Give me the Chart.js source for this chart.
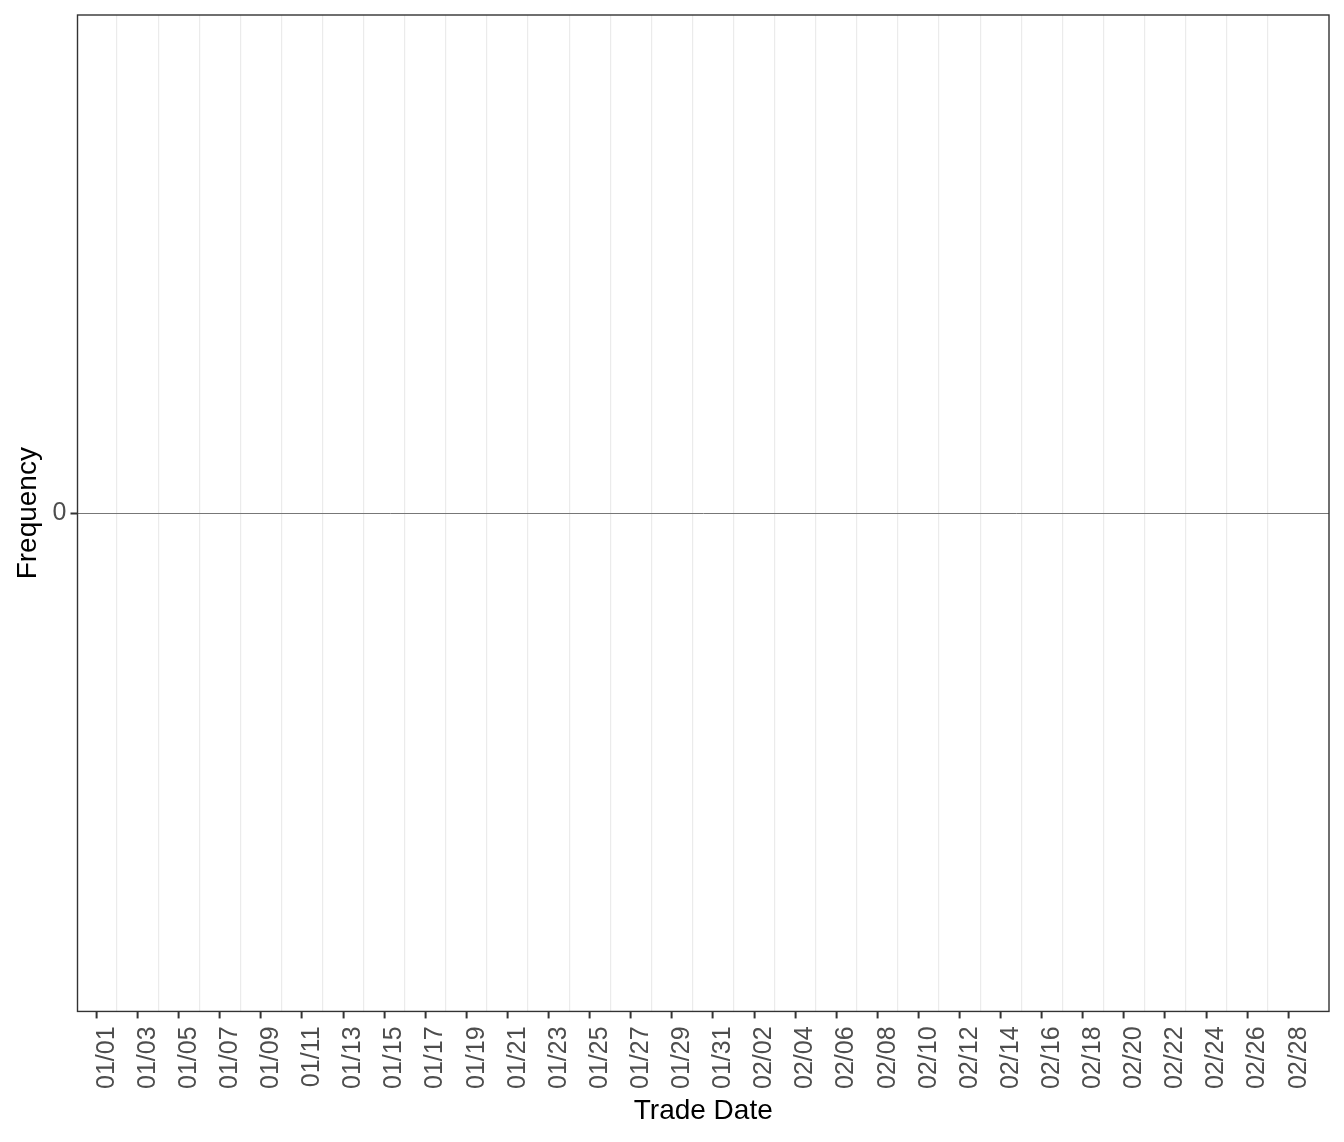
<!DOCTYPE html>
<html lang="en">
<head>
  <meta charset="UTF-8" />
  <title>Trade Date Frequency</title>
  <script src="https://cdn.jsdelivr.net/npm/chart.js"></script>
  <style>
    html, body { margin: 0; padding: 0; background: #fff; }
    #wrap { width: 1344px; height: 1142px; }
  </style>
</head>
<body>

<div id="wrap">
  <canvas id="grafico" width="1344" height="1142"></canvas>
</div>

<script>
  // dias do periodo (eixo x)
  const dates = [
    "01/01", "01/02", "01/03", "01/04", "01/05", "01/06", "01/07", "01/08", "01/09", "01/10",
    "01/11", "01/12", "01/13", "01/14", "01/15", "01/16", "01/17", "01/18", "01/19", "01/20",
    "01/21", "01/22", "01/23", "01/24", "01/25", "01/26", "01/27", "01/28", "01/29", "01/30",
    "01/31", "02/01", "02/02", "02/03", "02/04", "02/05", "02/06", "02/07", "02/08", "02/09",
    "02/10", "02/11", "02/12", "02/13", "02/14", "02/15", "02/16", "02/17", "02/18", "02/19",
    "02/20", "02/21", "02/22", "02/23", "02/24", "02/25", "02/26", "02/27", "02/28"
  ];
  // o grafico original nao tem nenhuma barra
  const frequency = [];
  const yTicks = [0];

  Chart.defaults.font.family = "'Liberation Sans', Arial, sans-serif";

  // moldura do painel
  const moldura = {
    id: "moldura",
    afterDraw(chart) {
      const a = chart.chartArea;
      const ctx = chart.ctx;
      ctx.save();
      ctx.strokeStyle = "#333333";
      ctx.lineWidth = 1.4;
      ctx.strokeRect(a.left, a.top, a.right - a.left, a.bottom - a.top);
      ctx.restore();
    }
  };

  const ctx = document.getElementById("grafico").getContext("2d");
  new Chart(ctx, {
    type: "bar",
    data: {
      datasets: [{
        label: "Frequency",
        data: frequency.map((v, i) => ({ x: i, y: v })),
        backgroundColor: "#595959"
      }]
    },
    options: {
      responsive: false,
      animation: false,
      layout: { padding: { top: 15, right: 15, bottom: 17, left: 11 } },
      plugins: { legend: { display: false }, tooltip: { enabled: false } },
      scales: {
        x: {
          type: "linear",
          min: -0.91,
          max: 58.96,
          afterBuildTicks: scale => {
            scale.ticks = dates.map((d, i) => ({ value: i }));
          },
          ticks: {
            autoSkip: false,
            maxRotation: 90,
            minRotation: 90,
            padding: 8,
            color: "#4d4d4d",
            font: { size: 25 },
            callback: (v, i) => (i % 2 === 0 ? dates[i] : "")
          },
          grid: {
            color: c => (c.index % 2 === 1 ? "#ebebeb" : "rgba(0,0,0,0)"),
            tickColor: c => (c.index % 2 === 0 ? "#333333" : "rgba(0,0,0,0)"),
            lineWidth: 1.2,
            tickWidth: 2,
            tickLength: 7
          },
          border: { display: false },
          title: {
            display: true,
            text: "Trade Date",
            color: "#000000",
            font: { size: 28, lineHeight: 1 },
            padding: { top: 0, bottom: 0 }
          }
        },
        y: {
          min: -1,
          max: 1,
          afterBuildTicks: scale => {
            scale.ticks = yTicks.map(v => ({ value: v }));
          },
          ticks: {
            color: "#4d4d4d",
            font: { size: 25, lineHeight: 0.5 },
            padding: 4
          },
          grid: {
            color: "#777777",
            tickColor: "#333333",
            lineWidth: 1,
            tickWidth: 2,
            tickLength: 7
          },
          border: { display: false },
          title: {
            display: true,
            text: "Frequency",
            color: "#000000",
            font: { size: 28 },
            padding: { top: 0, bottom: 4 }
          }
        }
      }
    },
    plugins: [moldura]
  });
</script>

</body>
</html>
